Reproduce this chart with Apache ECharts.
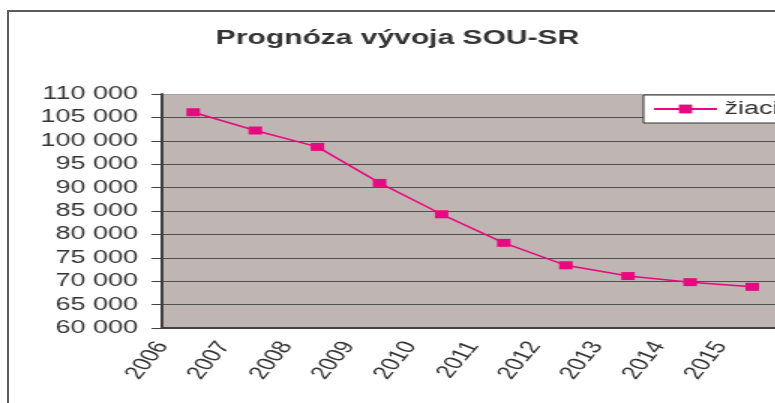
<!DOCTYPE html>
<html lang="sk">
<head>
  <meta charset="UTF-8">
  <title>Prognóza vývoja SOU-SR</title>
  <style>
    html, body { margin: 0; padding: 0; width: 775px; height: 403px; overflow: hidden; background: #fff; }
    #frame { position: absolute; left: 7px; top: 10px; width: 800px; height: 420px;
             border-left: 2px solid #5c5c5c; border-top: 2px solid #5c5c5c; }
    /* the reference picture is stretched horizontally, so the chart is drawn narrow and scaled */
    #main { position: absolute; left: 0; top: 0; width: 530px; height: 403px;
            transform: scaleX(1.5); transform-origin: 0 0; }
  </style>
</head>
<body>
  <div id="frame"></div>
  <div id="main"></div>

  <script src="https://cdn.jsdelivr.net/npm/echarts@6/dist/echarts.min.js"></script>
  <script>
    const years = ['2006', '2007', '2008', '2009', '2010', '2011', '2012', '2013', '2014', '2015'];
    const ziaci = [106100, 102200, 98700, 91000, 84300, 78200, 73400, 71100, 69800, 68800];
    const tickLabels = years.concat(['']);

    const font = "'Liberation Sans', Arial, sans-serif";
    const fmt = v => String(v).replace(/\B(?=(\d{3})+(?!\d))/g, ' ');

    const myChart = echarts.init(document.getElementById('main'));

    const options = {
      animation: false,
      title: {
        text: 'Prognóza vývoja SOU-SR',
        left: 'center',
        top: 23,
        textStyle: { fontFamily: font, fontSize: 20, fontWeight: 'bold', color: '#333' }
      },
      legend: {
        data: ['žiaci'],
        left: 429,
        top: 95,
        padding: [5, 6, 5, 6],
        itemWidth: 42,
        itemHeight: 11,
        itemGap: 4,
        backgroundColor: '#fff',
        borderColor: '#333',
        borderWidth: 1,
        borderRadius: 0,
        textStyle: { fontFamily: font, fontSize: 18, color: '#333' }
      },
      grid: {
        left: 108.1,
        right: 7.8,
        top: 94,
        bottom: 75,
        show: true,
        backgroundColor: '#BFB6B3',
        borderWidth: 0
      },
      xAxis: [
        {
          type: 'category',
          position: 'bottom',
          data: years,
          boundaryGap: true,
          axisLine: { lineStyle: { color: '#404040', width: 2 } },
          axisTick: { length: 5, lineStyle: { color: '#404040' } },
          axisLabel: { show: false }
        },
        {
          type: 'category',
          position: 'bottom',
          data: tickLabels,
          boundaryGap: false,
          axisLine: { show: false },
          axisTick: { show: false },
          axisLabel: {
            interval: 0,
            rotate: 60,
            margin: 15,
            fontFamily: font,
            fontSize: 18,
            color: '#333'
          }
        }
      ],
      yAxis: {
        type: 'value',
        min: 60000,
        max: 110000,
        interval: 5000,
        axisLine: { show: true, lineStyle: { color: '#404040', width: 2 } },
        axisTick: { show: true, length: 7, lineStyle: { color: '#404040' } },
        axisLabel: {
          margin: 16,
          formatter: fmt,
          fontFamily: font,
          fontSize: 18,
          color: '#333'
        },
        splitLine: {
          lineStyle: {
            color: ['#505050', '#505050', '#505050', '#505050', '#505050', '#505050',
                    '#505050', '#505050', '#505050', '#505050', '#A9A1A0'],
            width: 1
          }
        }
      },
      series: [{
        name: 'žiaci',
        type: 'line',
        xAxisIndex: 0,
        data: ziaci,
        symbol: 'rect',
        symbolSize: [9, 8],
        lineStyle: { color: '#E8087F', width: 1.5 },
        itemStyle: { color: '#E8087F' }
      }]
    };

    myChart.setOption(options);
  </script>
</body>
</html>
